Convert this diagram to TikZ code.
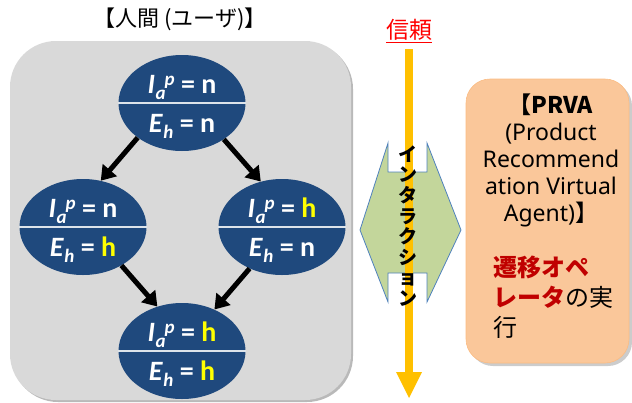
\documentclass[tikz,border=0pt]{standalone}
\usepackage{fontspec}
\setmainfont{Noto Sans}
\newfontfamily\jp{Noto Sans CJK JP}
\newfontfamily\calib{Carlito}
\usetikzlibrary{shapes.geometric,arrows.meta}
\definecolor{nodeblue}{HTML}{1F497D}
\definecolor{boxgray}{HTML}{D9D9D9}
\definecolor{axisyellow}{HTML}{FFC000}
\definecolor{hlyellow}{HTML}{FFFF00}
\definecolor{greenfill}{HTML}{C3D69B}
\definecolor{blueedge}{HTML}{4F81BD}
\definecolor{orangefill}{HTML}{FAC79A}
\definecolor{darkred}{HTML}{C00000}
\newcommand\Iap{\textit{I}\kern0.5pt\raisebox{-6pt}{\fontsize{19}{19}\selectfont\textit{a}}\kern-1pt\raisebox{8pt}{\fontsize{19}{19}\selectfont\textit{p}}}
\newcommand\Eh{\textit{E}\kern0.5pt\raisebox{-6pt}{\fontsize{19}{19}\selectfont\textit{h}}}
\newcommand\hval{\textcolor{hlyellow}{h}}
\begin{document}
\begin{tikzpicture}[x=1pt,y=-1pt,
  statenode/.style={ellipse,fill=nodeblue,minimum width=127pt,minimum height=96pt,inner sep=0pt},
  divider/.style={draw=white!85!nodeblue,line width=1.2pt},
  lbl/.style={text=white,font=\calib\bfseries\fontsize{28}{28}\selectfont,anchor=base,inner sep=0pt},
  blk/.style={line width=5pt,-{Triangle[length=14pt,width=18pt]}}
]
\useasboundingbox (0,0) rectangle (632,402);
% gray user box
\fill[gray!55,rounded corners=46pt] (12,43) rectangle (353,402);
\fill[boxgray,rounded corners=46pt] (10,41) rectangle (351,400);
\node[font=\jp\fontsize{22}{22}\selectfont,inner sep=0pt] (title) at (180,19) {【人間 (ユーザ)】};

% state nodes
\node[statenode] (s1) at (182,103) {};
\node[statenode] (s2) at (83,227) {};
\node[statenode] (s3) at (282,227) {};
\node[statenode] (s4) at (182,351) {};
\foreach \n in {s1,s2,s3,s4}{\draw[divider] (\n.west) -- (\n.east);}
\node[lbl] (t1a) at ([yshift=10pt]s1.center) {\Iap\ = n};
\node[lbl] (t1b) at ([yshift=-29pt]s1.center) {\Eh\ = n};
\node[lbl] (t2a) at ([yshift=10pt]s2.center) {\Iap\ = n};
\node[lbl] (t2b) at ([yshift=-29pt]s2.center) {\Eh\ = \hval};
\node[lbl] (t3a) at ([yshift=10pt]s3.center) {\Iap\ = \hval};
\node[lbl] (t3b) at ([yshift=-29pt]s3.center) {\Eh\ = n};
\node[lbl] (t4a) at ([yshift=10pt]s4.center) {\Iap\ = \hval};
\node[lbl] (t4b) at ([yshift=-29pt]s4.center) {\Eh\ = \hval};

\draw[blk] (s1.218) -- (s2.69);
\draw[blk] (s1.319) -- (s3.115);
\draw[blk] (s2.315) -- (s4.119);
\draw[blk] (s3.232) -- (s4.52);

% interaction shape
\filldraw[fill=greenfill,draw=blueedge,line width=0.8pt]
  (360,230) -- (388,143) -- (388,172) -- (427,172) -- (427,143) -- (461,230)
  -- (427,302) -- (427,273) -- (388,273) -- (388,302) -- cycle;
% trust axis
\coordinate (axtop) at (409,49);
\coordinate (axbot) at (409,398);
\fill[axisyellow] (405,49) rectangle (413,373);
\fill[axisyellow] (396,372) -- (422,372) -- (axbot) -- cycle;
\node[font=\jp\fontsize{23}{23}\selectfont,text=red,inner sep=0pt] (trust) at (409,31) {\underline{信頼}};
\node[font=\jp\bfseries\fontsize{19}{20.6}\selectfont,align=center,inner sep=0pt] (inter) at (408,226)
  {イ\\ン\\タ\\ラ\\ク\\シ\\ョ\\ン};

% PRVA box
\fill[gray!40,rounded corners=24pt] (469,82) rectangle (632,366);
\filldraw[fill=orangefill,draw=orangefill!85!orange,line width=0.6pt,rounded corners=24pt] (466,79) rectangle (629,363);
\node[font=\fontsize{23}{27}\selectfont,align=center,inner sep=0pt,anchor=north] (prva) at (551,94)
  {{\jp\bfseries 【PRVA}\\(Product\\Recommend\\ation Virtual\\Agent){\jp 】}};
\node[font=\jp\fontsize{24}{30}\selectfont,align=left,inner sep=0pt,anchor=north west] (op) at (493,256)
  {\textcolor{darkred}{\bfseries 遷移オペ}\\\textcolor{darkred}{\bfseries レータ}の実\\行};
\end{tikzpicture}
\end{document}
